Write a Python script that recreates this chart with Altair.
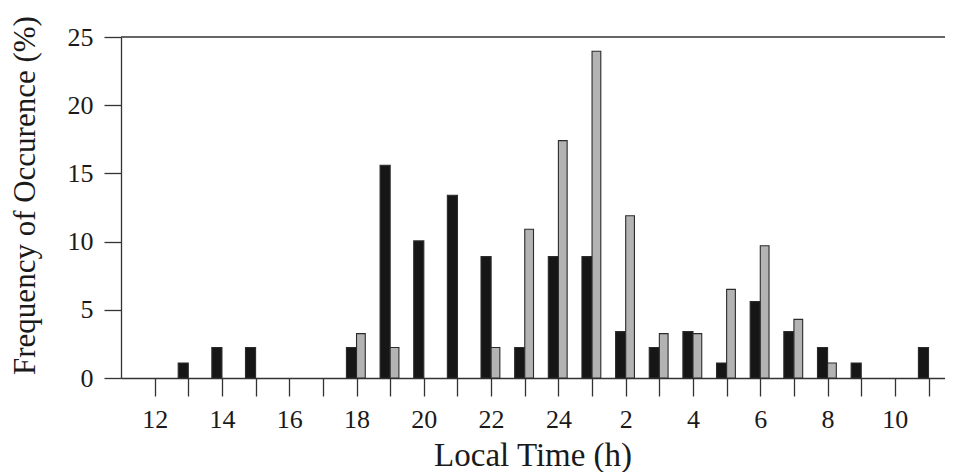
import altair as alt
import pandas as pd

# Local time bins (hours after 24 wrap to next day: 25 -> 1, 26 -> 2, ...)
hours = list(range(12, 36))
black_pct = [0, 1.1, 2.24, 2.24, 0, 0, 2.24, 15.6, 10.05, 13.4, 8.9, 2.24,
             8.9, 8.9, 3.4, 2.24, 3.4, 1.1, 5.6, 3.4, 2.24, 1.1, 0, 2.24]
gray_pct = [0, 0, 0, 0, 0, 0, 3.25, 2.24, 0, 0, 2.24, 10.9,
            17.4, 23.95, 11.9, 3.25, 3.25, 6.5, 9.7, 4.3, 1.1, 0, 0, 0]
series_names = ["black", "gray"]
y_ticks = [0, 5, 10, 15, 20, 25]

rows = []
for h, b, g in zip(hours, black_pct, gray_pct):
    if b > 0:
        rows.append({"hour": h, "value": b, "series": "black"})
    if g > 0:
        rows.append({"hour": h, "value": g, "series": "gray"})
df = pd.DataFrame(rows)

FONT = "Liberation Serif"
AXC = "#333333"

bars = alt.Chart(df).transform_calculate(
    x0="datum.series == 'black' ? datum.hour - 0.3 : datum.hour",
    x1="datum.series == 'black' ? datum.hour : datum.hour + 0.26",
).mark_bar(stroke="#2b2b2b", strokeWidth=1.1, orient="vertical").encode(
    x=alt.X("x0:Q",
            scale=alt.Scale(domain=[11, 35.49], nice=False, zero=False, padding=0),
            axis=alt.Axis(values=hours,
                          labelExpr="datum.value % 2 == 0 ? '' + (datum.value > 24 ? datum.value - 24 : datum.value) : ''",
                          tickSize=18, tickWidth=1.3, tickColor=AXC,
                          domainColor=AXC, domainWidth=1.3, grid=False,
                          labelFont=FONT, labelFontSize=26, labelColor="#1a1a1a",
                          labelPadding=10, labelFlush=False, labelOverlap=False,
                          title="Local Time (h)", titleFont=FONT, titleFontSize=33,
                          titleFontWeight="normal", titleColor="#1a1a1a",
                          titleX=411.6, titleY=87, titleAlign="center",
                          titleBaseline="alphabetic")),
    x2="x1:Q",
    y=alt.Y("value:Q",
            scale=alt.Scale(domain=[0, 25], nice=False, padding=0),
            axis=alt.Axis(values=y_ticks, tickSize=17, tickWidth=1.3, tickColor=AXC,
                          domainColor=AXC, domainWidth=1.3, grid=False,
                          labelFont=FONT, labelFontSize=26, labelColor="#1a1a1a",
                          labelPadding=11,
                          title="Frequency of Occurence (%)", titleFont=FONT,
                          titleFontSize=31, titleFontWeight="normal",
                          titleColor="#1a1a1a", titleX=-87, titleY=158,
                          titleAlign="center", titleBaseline="alphabetic")),
    y2=alt.datum(0),
    fill=alt.Fill("series:N",
                  scale=alt.Scale(domain=series_names, range=["#161616", "#b3b3b3"]),
                  legend=None),
)

top_line = alt.Chart(pd.DataFrame({"top": [25]})).mark_rule(
    color=AXC, strokeWidth=1.3).encode(y="top:Q")

chart = alt.layer(bars, top_line).properties(
    width=824, height=341,
    autosize=alt.AutoSizeParams(type="none"),
    padding={"left": 113, "top": 29, "right": 0, "bottom": 94},
    background="white",
).configure_view(stroke=None)

chart.save("out.html", embed_options={"renderer": "svg", "actions": False})
